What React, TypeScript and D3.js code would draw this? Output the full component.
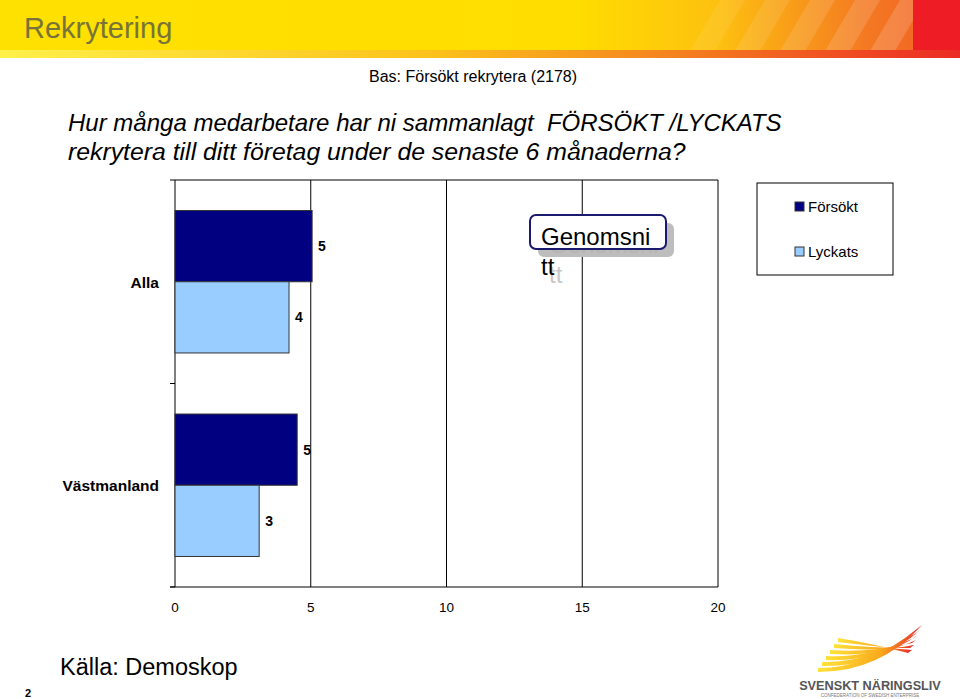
import React from "react";
import * as d3 from "d3";

const categories = ["Alla", "Västmanland"];
const series = ["Försökt", "Lyckats"];
const forsokt = [5.05, 4.5];
const lyckats = [4.2, 3.1];
const valueLabels = [["5", "4"], ["5", "3"]];
const xTicks = [0, 5, 10, 15, 20];
const colors = ["#000080", "#99ccff"];

export default function App() {
  const W = 960, H = 699;
  const left = 175, right = 718, top = 180, bottom = 587;
  const x = d3.scaleLinear().domain([0, 20]).range([left, right]);
  const y = d3.scaleBand<string>().domain(categories).range([top, bottom]).paddingInner(0.3).paddingOuter(0.15);
  const band = d3.scaleBand<string>().domain(categories).range([top, bottom]);
  const sub = d3.scaleBand<string>().domain(series).range([0, y.bandwidth()]);
  const data = [forsokt, lyckats];
  const font = "Arial, 'Liberation Sans', sans-serif";
  return (
    <svg width={W} height={H} style={{ position: "absolute", left: 0, top: 0 }} fontFamily={font}>
      <defs>
        <linearGradient id="hdr" x1="0" x2="1" y1="0" y2="0">
          <stop offset="0" stopColor="#ffe100" />
          <stop offset="0.6" stopColor="#ffdd00" />
          <stop offset="0.75" stopColor="#fdc010" />
          <stop offset="0.9" stopColor="#f47a22" />
          <stop offset="0.95" stopColor="#f26a24" />
        </linearGradient>
        <linearGradient id="strip" x1="0" x2="1" y1="0" y2="0">
          <stop offset="0" stopColor="#fff04a" />
          <stop offset="0.45" stopColor="#fbc21a" />
          <stop offset="0.7" stopColor="#f5821f" />
          <stop offset="1" stopColor="#ec2a24" />
        </linearGradient>
        <linearGradient id="wing" x1="0" x2="1" y1="0" y2="0">
          <stop offset="0" stopColor="#ffe23a" />
          <stop offset="0.6" stopColor="#f9a91b" />
          <stop offset="1" stopColor="#e8262b" />
        </linearGradient>
      </defs>
      <rect x={0} y={0} width={W} height={H} fill="#fff" />
      {/* header */}
      <rect x={0} y={0} width={W} height={51} fill="url(#hdr)" />
      {[0, 1, 2, 3, 4].map((i) => (
        <polygon key={i}
          points={`${690 + i * 45},51 ${720 + i * 45},0 ${745 + i * 45},0 ${715 + i * 45},51`}
          fill="#ffffff" opacity={0.08 + i * 0.02} />
      ))}
      <rect x={913} y={0} width={47} height={51} fill="#ee1c25" />
      <rect x={0} y={50} width={W} height={8} fill="url(#strip)" />
      <text x={24} y={38} fontSize={29} fill="#77733a">Rekrytering</text>

      <text x={369} y={82} fontSize={16} fill="#000">Bas: Försökt rekrytera (2178)</text>
      <text x={68} y={131} fontSize={24} fontStyle="italic" fill="#000" style={{ whiteSpace: "pre" }}>{"Hur många medarbetare har ni sammanlagt  FÖRSÖKT /LYCKATS"}</text>
      <text x={68} y={160} fontSize={24.8} fontStyle="italic" fill="#000">rekrytera till ditt företag under de senaste 6 månaderna?</text>

      {/* grid */}
      {xTicks.slice(1).map((t) => (
        <line key={t} x1={x(t)} x2={x(t)} y1={top} y2={bottom} stroke="#000" strokeWidth={1} />
      ))}
      <line x1={left - 5} x2={right} y1={top} y2={top} stroke="#000" />
      <line x1={left - 5} x2={right} y1={bottom} y2={bottom} stroke="#000" />
      <line x1={left} x2={left} y1={top} y2={bottom} stroke="#000" />
      {categories.map((c) => (
        <line key={c} x1={left - 5} x2={left} y1={(band(c) as number) + band.bandwidth()} y2={(band(c) as number) + band.bandwidth()} stroke="#000" />
      ))}

      {/* bars */}
      {categories.map((c, ci) => (
        <g key={c}>
          {series.map((s, si) => {
            const by = (y(c) as number) + (sub(s) as number);
            const v = data[si][ci];
            return (
              <g key={s}>
                <rect x={x(0)} y={by} width={x(v) - x(0)} height={sub.bandwidth()} fill={colors[si]} stroke="#333" strokeWidth={1} />
                <text x={x(v) + 6} y={by + sub.bandwidth() / 2 + 5} fontSize={14} fontWeight="bold">{valueLabels[ci][si]}</text>
              </g>
            );
          })}
          <text x={left - 16} y={(y(c) as number) + y.bandwidth() / 2 + 6} textAnchor="end" fontSize={15.5} fontWeight="bold">{c}</text>
        </g>
      ))}
      {xTicks.map((t) => (
        <text key={t} x={x(t)} y={612} textAnchor="middle" fontSize={13.5}>{t}</text>
      ))}

      {/* Genomsnitt callout */}
      <rect x={538} y={223} width={136} height={34} rx={6} fill="#bdbdbd" />
      <text x={549} y={253} fontSize={24} fill="#b5b5b5">Genomsni</text>
      <text x={549} y={283} fontSize={24} fill="#c8c8c8">tt</text>
      <rect x={530} y={215} width={136} height={34} rx={6} fill="#fff" stroke="#1a1a6e" strokeWidth={2} />
      <text x={541} y={245} fontSize={24} fill="#000">Genomsni</text>
      <text x={541} y={275} fontSize={24} fill="#000">tt</text>

      {/* legend */}
      <rect x={757} y={183} width={136} height={92} fill="#fff" stroke="#000" />
      {series.map((s, i) => (
        <g key={s}>
          <rect x={795} y={202 + i * 45} width={9} height={9} fill={colors[i]} stroke="#333" />
          <text x={808} y={212 + i * 45} fontSize={15}>{s}</text>
        </g>
      ))}

      <text x={60} y={675} fontSize={23.5}>Källa: Demoskop</text>
      <text x={25} y={697} fontSize={11} fontWeight="bold">2</text>

      {/* logo */}
      <g>
        {[0, 1, 2, 3, 4, 5].map((i) => (
          <path key={i}
            d={`M ${818 + i * 4} ${668 - i * 6} Q ${870} ${668 - i * 5} ${918 - i * 2} ${628 + i * 5} L ${922 - i * 2} ${625 + i * 5} Q ${880} ${672 - i * 5} ${818 + i * 4} ${672 - i * 6} Z`}
            fill="url(#wing)" />
        ))}
        <text x={870} y={690} textAnchor="middle" fontSize={12.7} fontWeight="bold" fill="#555">SVENSKT NÄRINGSLIV</text>
        <text x={870} y={697} textAnchor="middle" fontSize={4.5} fill="#777">CONFEDERATION OF SWEDISH ENTERPRISE</text>
      </g>
    </svg>
  );
}
